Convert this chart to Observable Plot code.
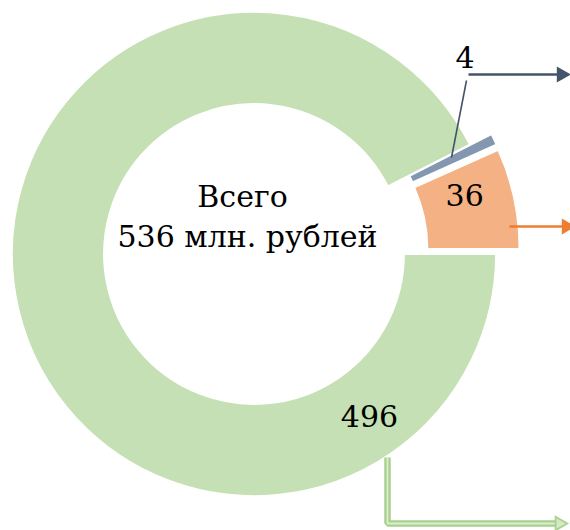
<!DOCTYPE html>
<html><head><meta charset="utf-8">
<script src="https://cdn.jsdelivr.net/npm/d3@7"></script>
<script src="https://cdn.jsdelivr.net/npm/@observablehq/plot@0.6"></script>
<style>html,body{margin:0;padding:0;background:#fff;overflow:hidden}</style>
</head><body><div id="chart"></div>
<script>
// ---- data ----
const categories = ["A", "B", "C"];
const values = [496, 4, 36];
const valueLabels = ["496", "4", "36"];
const exploded = [0, 1, 1];
const colors = ["#C5E0B4", "#8497B0", "#F4B183"];
const centerLines = ["Всего", "536 млн. рублей"];

// ---- layout ----
const W = 570, H = 530;
const L = {cx: 254, cy: 254, rIn: 150, rOut: 242, explode: 24, font: 30,
  // label positions in polar form (degrees clockwise from north, radius from centre)
  labelAngle: [144.7, 47.0, 74.6], labelRadius: [199, 288, 218]};

const slices = categories.map((c, i) => ({category: c, value: values[i], label: valueLabels[i], exploded: exploded[i]}));
const pie = d3.pie().sort(null).value(d => d.value)
  .startAngle(Math.PI / 2).endAngle(Math.PI / 2 + 2 * Math.PI);
const arcs = pie(slices);

const labelData = slices.map((s, i) => {
  const a = L.labelAngle[i] * Math.PI / 180;
  return {text: s.label, x: L.cx + L.labelRadius[i] * Math.sin(a), y: L.cy - L.labelRadius[i] * Math.cos(a)};
});
const centerData = [
  {text: centerLines[0], x: L.cx - 12, y: 197},
  {text: centerLines[1], x: L.cx - 7, y: 237}
];

// annotation connectors (outside the pie)
const darkArrow = [{x1: 468, y1: 74, x2: 558, y2: 74}];
const leader = [{x1: 466, y1: 80, x2: 451, y2: 157}];
const orangeArrow = [{x1: 509, y1: 226, x2: 562, y2: 226}];
const greenPath = [{x: 387, y: 457}, {x: 387, y: 523}, {x: 556, y: 523}];

function donut(index, scales) {
  const g = d3.create("svg:g");
  const cx = scales.x(L.cx), cy = scales.y(L.cy);
  const arc = d3.arc().innerRadius(L.rIn).outerRadius(L.rOut);
  g.selectAll("path").data(arcs).join("path")
    .attr("d", arc)
    .attr("fill", (d, i) => scales.color ? scales.color(d.data.category) : colors[i])
    .attr("stroke", "white").attr("stroke-width", 1.8).attr("stroke-linejoin", "miter")
    .attr("transform", d => {
      const a = (d.startAngle + d.endAngle) / 2, o = d.data.exploded * L.explode;
      return `translate(${cx + o * Math.sin(a)},${cy - o * Math.cos(a)})`;
    });
  return g.node();
}

const font = "'DejaVu Serif', serif";
const chart = Plot.plot({
  width: W, height: H, margin: 0,
  x: {domain: [0, W], range: [0, W], axis: null},
  y: {domain: [0, H], range: [0, H], axis: null},
  color: {domain: categories, range: colors},
  style: {background: "white", fontFamily: font},
  marks: [
    Plot.dot(slices, {x: () => L.cx, y: () => L.cy, fill: "category", r: 0}),
    donut,
    Plot.link(leader, {x1: "x1", y1: "y1", x2: "x2", y2: "y2", stroke: "#44546A", strokeWidth: 1.6}),
    Plot.link(darkArrow, {x1: "x1", y1: "y1", x2: "x2", y2: "y2", stroke: "#44546A", strokeWidth: 2.5}),
    Plot.dot(darkArrow, {x: d => d.x2 + 3, y: "y2", symbol: "triangle", rotate: 90, r: 6, fill: "#44546A", stroke: "none"}),
    Plot.link(orangeArrow, {x1: "x1", y1: "y1", x2: "x2", y2: "y2", stroke: "#ED7D31", strokeWidth: 2.5}),
    Plot.dot(orangeArrow, {x: d => d.x2 + 4, y: "y2", symbol: "triangle", rotate: 90, r: 6, fill: "#ED7D31", stroke: "none"}),
    Plot.line(greenPath, {x: "x", y: "y", stroke: "#A9D18E", strokeWidth: 6.5, strokeLinejoin: "miter", strokeLinecap: "butt"}),
    Plot.line(greenPath, {x: "x", y: "y", stroke: "#DDEDD2", strokeWidth: 1.8, strokeLinejoin: "miter", strokeLinecap: "butt"}),
    Plot.dot(greenPath.slice(-1), {x: d => d.x + 3, y: "y", symbol: "triangle", rotate: 90, r: 5, fill: "#D5E8C8", stroke: "#A9D18E", strokeWidth: 1.8}),
    Plot.text(labelData, {x: "x", y: "y", text: "text", fontSize: L.font, fontFamily: font, fill: "black", textAnchor: "middle", lineAnchor: "middle"}),
    Plot.text(centerData, {x: "x", y: "y", text: "text", fontSize: L.font, fontFamily: font, fill: "black", textAnchor: "middle", lineAnchor: "middle"})
  ]
});
document.getElementById("chart").appendChild(chart);
</script>
</body></html>
